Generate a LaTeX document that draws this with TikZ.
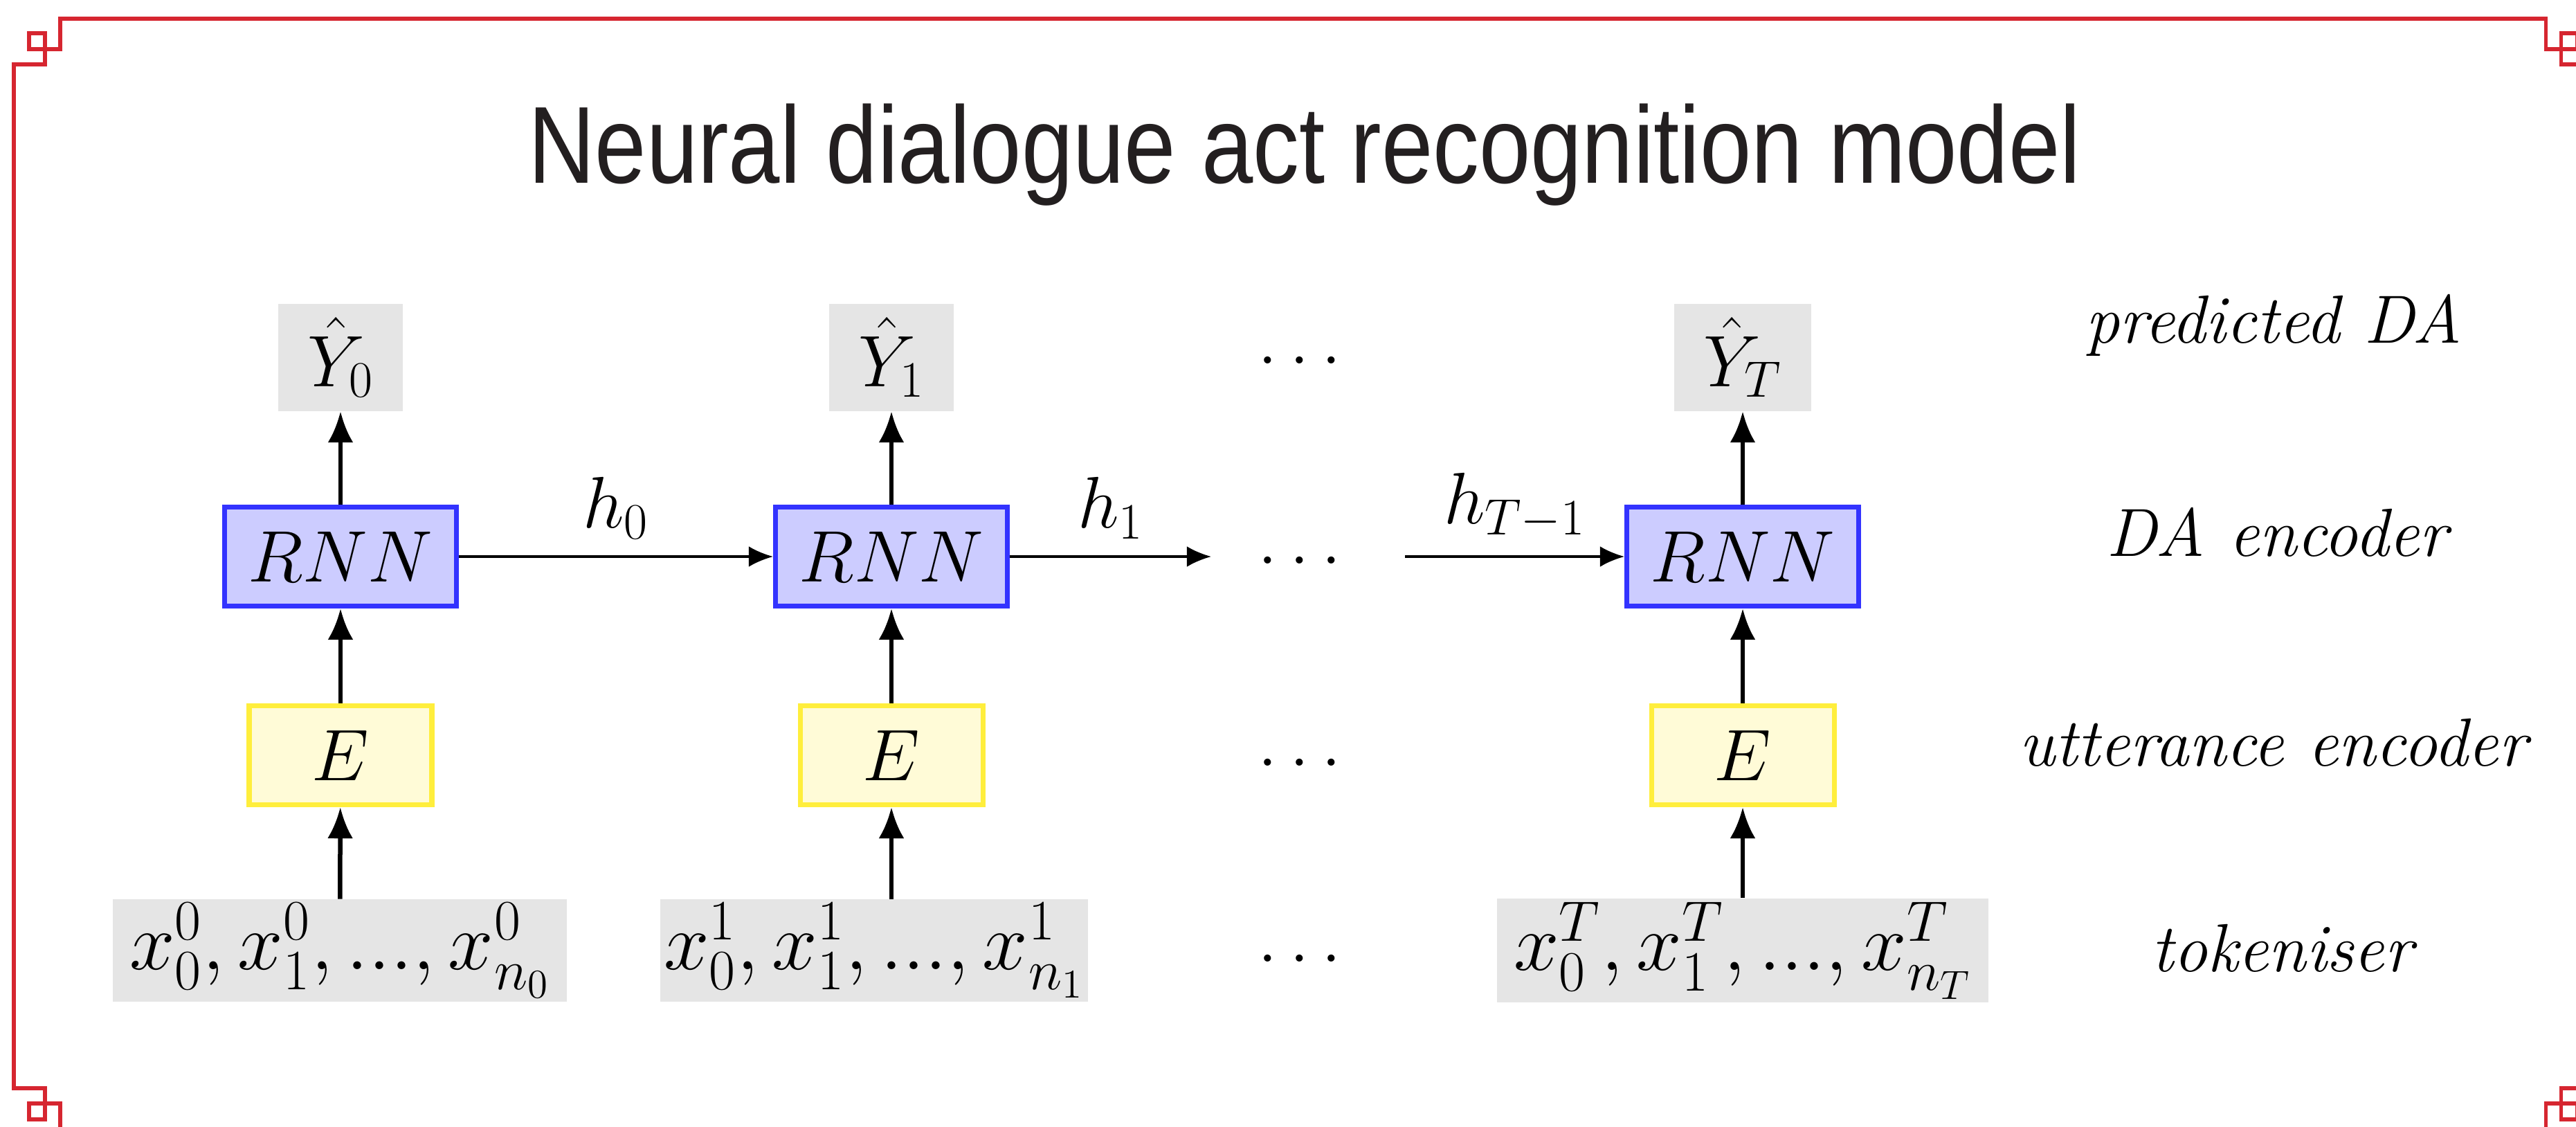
\RequirePackage{fix-cm}
\documentclass[tikz,border=0pt]{standalone}
\usepackage{amsmath,amssymb}
\usepackage{fontspec}
\usepackage{tikz}
\usetikzlibrary{arrows.meta,positioning}
\usepackage{xcolor}

\newfontfamily\titlefont{Liberation Sans}
\definecolor{framered}{RGB}{214,38,48}
\definecolor{titlegray}{RGB}{35,31,32}
\definecolor{rnnline}{RGB}{51,51,255}
\definecolor{rnnfill}{RGB}{204,204,255}
\definecolor{encline}{RGB}{255,238,60}
\definecolor{encfill}{RGB}{255,251,215}
\definecolor{boxgray}{RGB}{229,229,229}

\begin{document}
\begin{tikzpicture}[
    mathfont/.style={font=\fontsize{30}{36}\selectfont},
    rnnbox/.style={mathfont, draw=rnnline, fill=rnnfill, line width=2pt, minimum width=3.35cm, minimum height=1.43cm},
    encbox/.style={mathfont, draw=encline, fill=encfill, line width=2pt, minimum width=2.64cm, minimum height=1.43cm},
    outbox/.style={mathfont, fill=boxgray, minimum height=1.55cm, inner xsep=0.42cm},
    tokbox/.style={font=\fontsize{33.5}{40}\selectfont, fill=boxgray, minimum height=1.40cm, inner xsep=0.24cm, inner ysep=0.05cm},
    rowlabel/.style={font=\fontsize{28}{34}\selectfont\itshape},
    uparrow/.style={-{Latex[length=12.8pt,width=10.5pt]}, line width=1.85pt},
    harrow/.style={-{Latex[length=10pt,width=8.5pt]}, line width=1pt}
]
    \useasboundingbox (0,0) rectangle (37.22,-16.27);
    \clip (0,0) rectangle (37.22,-16.27);

    % red frame
    \draw[framered, line width=1.45pt]
        (0.87,-0.27) -- (36.78,-0.27) -- (36.78,-0.71) -- (37.23,-0.71) -- (37.23,-0.48) -- (37.00,-0.48) -- (37.00,-0.93) -- (37.45,-0.93)
        -- (37.45,-15.72) -- (37.00,-15.72) -- (37.00,-16.17) -- (37.23,-16.17) -- (37.23,-15.94) -- (36.78,-15.94) -- (36.78,-16.38)
        -- (0.87,-16.38) -- (0.87,-15.94) -- (0.42,-15.94) -- (0.42,-16.17) -- (0.65,-16.17) -- (0.65,-15.72) -- (0.20,-15.72)
        -- (0.20,-0.93) -- (0.65,-0.93) -- (0.65,-0.48) -- (0.42,-0.48) -- (0.42,-0.71) -- (0.87,-0.71) -- cycle;

    \node[font=\titlefont\fontsize{45}{54}\selectfont, text=titlegray, xscale=0.845, anchor=base] (title) at (18.85,-2.64) {Neural dialogue act recognition model};

    % first step
    \node[outbox] (y0) at (4.92,-5.16) {$\hat{Y}_0$};
    \node[rnnbox] (rnn0) at (4.92,-8.04) {$RNN$};
    \node[encbox] (enc0) at (4.92,-10.91) {$E$};
    \node[tokbox] (tok0) at (4.91,-13.73) {$x^0_0, x^0_1, ..., x^0_{n_0}$};

    % second step
    \node[outbox] (y1) at (12.88,-5.16) {$\hat{Y}_1$};
    \node[rnnbox] (rnn1) at (12.88,-8.04) {$RNN$};
    \node[encbox] (enc1) at (12.88,-10.91) {$E$};
    \node[tokbox, inner xsep=0.05cm] (tok1) at (12.63,-13.73) {$x^1_0, x^1_1, ..., x^1_{n_1}$};

    % last step
    \node[outbox] (yT) at (25.18,-5.16) {$\hat{Y}_T$};
    \node[rnnbox] (rnnT) at (25.18,-8.04) {$RNN$};
    \node[encbox] (encT) at (25.18,-10.91) {$E$};
    \node[tokbox] (tokT) at (25.18,-13.73) {$x^T_0, x^T_1, ..., x^T_{n_T}$};

    % dots in between
    \node[mathfont] (dotsY) at (18.87,-5.20) {$\dots$};
    \node[mathfont] (dotsR) at (18.87,-8.09) {$\dots$};
    \node[mathfont] (dotsE) at (18.87,-11.01) {$\dots$};
    \node[mathfont] (dotsX) at (18.87,-13.84) {$\dots$};
    \coordinate (h1end) at (17.50,-8.04);
    \coordinate (hTstart) at (20.30,-8.04);

    % row labels
    \node[rowlabel] (lblY) at (32.85,-4.70) {predicted DA};
    \node[rowlabel] (lblR) at (32.90,-7.69) {DA encoder};
    \node[rowlabel] (lblE) at (32.84,-10.73) {utterance encoder};
    \node[rowlabel] (lblX) at (32.97,-13.70) {tokeniser};

    \draw[uparrow] (tok0) -- (enc0);
    \draw[uparrow] (enc0) -- (rnn0);
    \draw[uparrow] (rnn0) -- (y0);
    \draw[uparrow] (tok1.north -| enc1) -- (enc1);
    \draw[uparrow] (enc1) -- (rnn1);
    \draw[uparrow] (rnn1) -- (y1);
    \draw[uparrow] (tokT) -- (encT);
    \draw[uparrow] (encT) -- (rnnT);
    \draw[uparrow] (rnnT) -- (yT);

    \draw[harrow] (rnn0) -- node[mathfont, above=0.12cm] {$h_0$} (rnn1);
    \draw[harrow] (rnn1) -- node[mathfont, above=0.12cm] {$h_1$} (h1end);
    \draw[harrow] (hTstart) -- node[mathfont, above=0.12cm] {$h_{T-1}$} (rnnT);
\end{tikzpicture}
\end{document}
